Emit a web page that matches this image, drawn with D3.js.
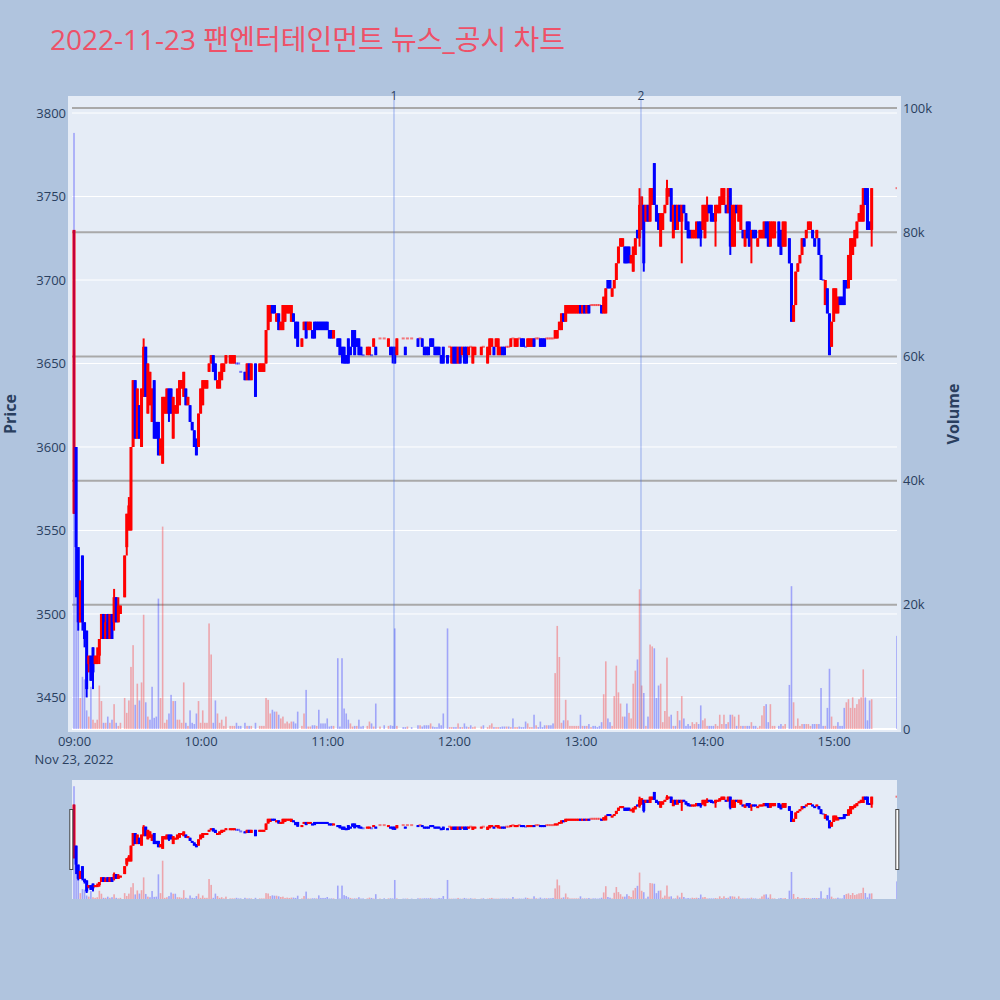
<!DOCTYPE html>
<html lang="ko">
<head>
<meta charset="utf-8">
<title>팬엔터테인먼트 뉴스_공시 차트</title>
<script src="https://cdn.jsdelivr.net/npm/d3@7"></script>
<style>
  body { margin: 0; background: #b0c4de; }
  svg { display: block; font-family: "Open Sans", "Noto Sans CJK KR", sans-serif; }
</style>
</head>
<body>
<script>
// Data
const tradeDay = "2022-11-23";
const chartTitle = "2022-11-23 팬엔터테인먼트 뉴스_공시 차트";

// minutes after the 09:00 open, one entry per traded minute
const minutes = [
	0, 1, 2, 3, 4, 5, 6, 7, 8, 9,
	10, 11, 12, 13, 14, 15, 16, 17, 18, 19,
	20, 21, 22, 24, 25, 26, 27, 28, 29, 30,
	31, 32, 33, 34, 35, 36, 37, 38, 39, 40,
	41, 42, 43, 44, 45, 46, 47, 48, 49, 50,
	51, 52, 53, 54, 55, 56, 57, 58, 59, 60,
	61, 62, 63, 64, 65, 66, 67, 68, 69, 70,
	71, 72, 74, 75, 76, 77, 78, 79, 81, 82,
	83, 84, 86, 88, 89, 90, 91, 92, 93, 94,
	95, 96, 97, 98, 99, 100, 101, 102, 103, 104,
	105, 106, 108, 109, 110, 111, 112, 113, 114, 115,
	116, 117, 118, 119, 120, 121, 122, 123, 125, 126,
	127, 128, 129, 130, 131, 132, 133, 134, 135, 136,
	137, 139, 140, 141, 142, 143, 145, 147, 149, 150,
	151, 152, 153, 156, 157, 158, 160, 163, 164, 165,
	166, 167, 168, 169, 170, 171, 172, 173, 174, 175,
	177, 178, 179, 180, 181, 182, 183, 184, 185, 186,
	187, 188, 189, 190, 193, 194, 196, 197, 198, 199,
	200, 201, 202, 203, 204, 205, 206, 207, 208, 209,
	210, 211, 212, 213, 214, 215, 216, 217, 218, 219,
	220, 221, 222, 223, 224, 225, 226, 227, 228, 229,
	230, 231, 232, 233, 234, 235, 236, 237, 238, 239,
	240, 241, 242, 243, 244, 245, 246, 247, 248, 249,
	250, 251, 252, 253, 254, 255, 256, 257, 258, 259,
	260, 261, 262, 263, 264, 265, 266, 267, 268, 269,
	270, 271, 272, 273, 274, 275, 276, 277, 278, 279,
	280, 281, 282, 283, 284, 285, 286, 287, 288, 289,
	290, 291, 292, 293, 294, 295, 296, 297, 298, 299,
	300, 301, 302, 303, 304, 305, 306, 307, 308, 309,
	310, 311, 312, 313, 314, 315, 316, 317, 318, 319,
	320, 321, 322, 323, 324, 325, 326, 327, 328, 329,
	330, 331, 332, 334, 335, 336, 337, 339, 340, 341,
	342, 343, 344, 345, 346, 347, 348, 349, 350, 351,
	352, 353, 354, 355, 356, 357, 358, 359, 360, 361,
	362, 363, 364, 365, 366, 367, 368, 369, 370, 371,
	372, 373, 374, 375, 376, 377, 378, 390
];

const opens = [
	3560, 3600, 3540, 3495, 3535, 3495, 3490, 3470, 3475, 3480,
	3470, 3470, 3475, 3485, 3500, 3485, 3500, 3485, 3500, 3495,
	3510, 3495, 3500, 3510, 3540, 3550, 3550, 3600, 3640, 3605,
	3625, 3600, 3630, 3660, 3620, 3625, 3615, 3640, 3615, 3615,
	3595, 3590, 3620, 3620, 3635, 3635, 3605, 3620, 3620, 3625,
	3635, 3630, 3635, 3625, 3625, 3615, 3610, 3605, 3600, 3620,
	3625, 3635, 3635, 3645, 3650, 3655, 3650, 3635, 3635, 3640,
	3645, 3650, 3650, 3650, 3650, 3650, 3650, 3645, 3645, 3640,
	3650, 3640, 3650, 3645, 3645, 3645, 3650, 3670, 3675, 3685,
	3685, 3675, 3680, 3670, 3670, 3675, 3680, 3680, 3675, 3680,
	3675, 3675, 3660, 3670, 3675, 3670, 3670, 3670, 3675, 3675,
	3675, 3675, 3675, 3675, 3675, 3670, 3670, 3665, 3665, 3665,
	3660, 3660, 3655, 3665, 3660, 3670, 3670, 3665, 3665, 3660,
	3655, 3655, 3655, 3655, 3660, 3660, 3665, 3665, 3660, 3660,
	3660, 3660, 3655, 3665, 3660, 3665, 3665, 3665, 3665, 3665,
	3660, 3660, 3660, 3665, 3665, 3660, 3660, 3660, 3655, 3660,
	3655, 3660, 3650, 3660, 3660, 3650, 3660, 3655, 3660, 3660,
	3655, 3660, 3650, 3655, 3655, 3660, 3650, 3655, 3660, 3660,
	3660, 3655, 3655, 3660, 3660, 3660, 3660, 3660, 3665, 3660,
	3660, 3665, 3665, 3665, 3660, 3660, 3660, 3660, 3665, 3665,
	3665, 3665, 3665, 3665, 3665, 3665, 3665, 3665, 3665, 3665,
	3670, 3670, 3680, 3675, 3680, 3680, 3680, 3680, 3680, 3680,
	3685, 3680, 3685, 3680, 3685, 3685, 3685, 3685, 3685, 3685,
	3685, 3680, 3680, 3700, 3700, 3690, 3695, 3700, 3710, 3720,
	3720, 3720, 3720, 3720, 3710, 3705, 3715, 3730, 3725, 3730,
	3745, 3735, 3745, 3735, 3745, 3770, 3745, 3740, 3720, 3730,
	3740, 3745, 3750, 3755, 3725, 3745, 3730, 3745, 3735, 3745,
	3740, 3735, 3730, 3725, 3725, 3725, 3735, 3735, 3730, 3725,
	3735, 3745, 3745, 3740, 3735, 3740, 3740, 3745, 3745, 3745,
	3740, 3755, 3720, 3720, 3745, 3735, 3730, 3730, 3720, 3735,
	3735, 3725, 3730, 3730, 3720, 3725, 3725, 3725, 3735, 3735,
	3720, 3725, 3725, 3735, 3730, 3720, 3720, 3725, 3710, 3675,
	3685, 3705, 3710, 3715, 3725, 3725, 3730, 3730, 3730, 3725,
	3725, 3725, 3715, 3700, 3685, 3695, 3680, 3660, 3675, 3680,
	3680, 3690, 3690, 3700, 3700, 3695, 3700, 3715, 3720, 3725,
	3735, 3735, 3735, 3755, 3755, 3735, 3730, 3755
];

const highs = [
	3730, 3600, 3540, 3520, 3535, 3495, 3490, 3475, 3475, 3480,
	3475, 3480, 3485, 3500, 3500, 3500, 3500, 3500, 3500, 3515,
	3510, 3510, 3505, 3535, 3560, 3570, 3600, 3640, 3640, 3635,
	3625, 3635, 3665, 3660, 3650, 3645, 3635, 3640, 3615, 3615,
	3605, 3630, 3630, 3635, 3635, 3635, 3630, 3625, 3635, 3640,
	3640, 3645, 3635, 3630, 3625, 3615, 3610, 3605, 3620, 3635,
	3640, 3640, 3640, 3650, 3655, 3655, 3650, 3640, 3645, 3650,
	3650, 3655, 3655, 3655, 3655, 3650, 3650, 3645, 3645, 3650,
	3650, 3650, 3650, 3650, 3650, 3650, 3670, 3685, 3685, 3685,
	3685, 3680, 3680, 3675, 3685, 3685, 3685, 3685, 3685, 3680,
	3675, 3675, 3665, 3675, 3675, 3675, 3675, 3670, 3675, 3675,
	3675, 3675, 3675, 3675, 3675, 3670, 3670, 3670, 3665, 3665,
	3660, 3660, 3655, 3665, 3660, 3670, 3670, 3665, 3665, 3660,
	3655, 3660, 3660, 3655, 3665, 3660, 3665, 3665, 3665, 3660,
	3660, 3660, 3665, 3665, 3660, 3665, 3665, 3665, 3665, 3665,
	3660, 3660, 3660, 3665, 3665, 3660, 3660, 3660, 3655, 3660,
	3655, 3660, 3660, 3660, 3660, 3660, 3660, 3660, 3660, 3660,
	3660, 3660, 3660, 3660, 3660, 3660, 3660, 3665, 3665, 3660,
	3665, 3665, 3660, 3660, 3660, 3660, 3660, 3665, 3665, 3665,
	3665, 3665, 3665, 3665, 3660, 3665, 3665, 3665, 3665, 3665,
	3665, 3665, 3665, 3665, 3665, 3665, 3665, 3665, 3670, 3670,
	3675, 3680, 3680, 3685, 3685, 3685, 3685, 3685, 3685, 3685,
	3685, 3685, 3685, 3685, 3685, 3685, 3685, 3685, 3685, 3685,
	3685, 3690, 3695, 3700, 3700, 3695, 3700, 3710, 3720, 3725,
	3725, 3720, 3720, 3720, 3715, 3720, 3725, 3730, 3755, 3750,
	3745, 3745, 3745, 3755, 3755, 3770, 3745, 3740, 3740, 3740,
	3745, 3760, 3755, 3755, 3745, 3745, 3745, 3745, 3745, 3745,
	3740, 3735, 3730, 3730, 3730, 3735, 3735, 3735, 3745, 3745,
	3750, 3745, 3745, 3740, 3745, 3745, 3750, 3755, 3755, 3745,
	3755, 3755, 3745, 3745, 3745, 3745, 3745, 3730, 3730, 3735,
	3735, 3730, 3730, 3730, 3725, 3730, 3730, 3735, 3735, 3735,
	3735, 3735, 3735, 3735, 3730, 3735, 3735, 3725, 3710, 3685,
	3705, 3710, 3715, 3725, 3725, 3730, 3735, 3735, 3730, 3725,
	3730, 3725, 3715, 3700, 3700, 3695, 3680, 3675, 3695, 3695,
	3690, 3690, 3690, 3700, 3700, 3715, 3725, 3725, 3730, 3735,
	3740, 3745, 3755, 3755, 3755, 3735, 3755, 3755
];

const lows = [
	3560, 3510, 3490, 3495, 3490, 3480, 3450, 3465, 3460, 3455,
	3470, 3470, 3470, 3485, 3485, 3485, 3485, 3485, 3485, 3490,
	3495, 3495, 3500, 3510, 3535, 3550, 3550, 3600, 3605, 3605,
	3605, 3600, 3630, 3630, 3620, 3625, 3615, 3605, 3605, 3595,
	3595, 3590, 3620, 3620, 3615, 3620, 3605, 3620, 3620, 3625,
	3635, 3630, 3625, 3625, 3615, 3610, 3600, 3595, 3600, 3620,
	3625, 3635, 3635, 3645, 3650, 3645, 3640, 3635, 3635, 3640,
	3645, 3650, 3650, 3650, 3650, 3650, 3650, 3645, 3640, 3640,
	3640, 3640, 3630, 3645, 3645, 3645, 3650, 3670, 3675, 3680,
	3680, 3675, 3670, 3670, 3670, 3675, 3680, 3680, 3675, 3675,
	3665, 3660, 3660, 3670, 3665, 3670, 3670, 3665, 3665, 3670,
	3670, 3670, 3670, 3670, 3670, 3665, 3665, 3665, 3660, 3655,
	3650, 3650, 3650, 3650, 3655, 3660, 3655, 3660, 3655, 3655,
	3655, 3655, 3655, 3655, 3660, 3655, 3665, 3665, 3660, 3655,
	3650, 3650, 3655, 3665, 3655, 3665, 3665, 3660, 3665, 3660,
	3655, 3655, 3655, 3660, 3660, 3655, 3655, 3655, 3650, 3650,
	3650, 3660, 3650, 3650, 3650, 3650, 3650, 3655, 3650, 3650,
	3655, 3660, 3650, 3655, 3655, 3660, 3650, 3655, 3660, 3655,
	3660, 3655, 3655, 3655, 3655, 3660, 3660, 3660, 3665, 3660,
	3660, 3665, 3660, 3660, 3660, 3660, 3660, 3660, 3660, 3665,
	3665, 3660, 3660, 3660, 3665, 3665, 3665, 3665, 3665, 3665,
	3670, 3670, 3675, 3675, 3680, 3680, 3680, 3680, 3680, 3680,
	3680, 3680, 3680, 3680, 3680, 3685, 3685, 3685, 3685, 3685,
	3680, 3680, 3680, 3695, 3695, 3690, 3695, 3700, 3710, 3720,
	3720, 3710, 3710, 3710, 3710, 3705, 3715, 3725, 3720, 3730,
	3705, 3735, 3735, 3735, 3745, 3745, 3735, 3730, 3720, 3730,
	3740, 3745, 3750, 3735, 3725, 3730, 3730, 3735, 3710, 3740,
	3730, 3725, 3725, 3725, 3725, 3725, 3725, 3720, 3730, 3725,
	3735, 3740, 3735, 3735, 3720, 3740, 3740, 3745, 3745, 3740,
	3740, 3715, 3720, 3720, 3740, 3735, 3730, 3725, 3720, 3725,
	3720, 3710, 3725, 3725, 3720, 3725, 3725, 3725, 3725, 3720,
	3720, 3725, 3725, 3720, 3715, 3720, 3720, 3710, 3675, 3675,
	3685, 3705, 3710, 3715, 3720, 3725, 3730, 3730, 3725, 3720,
	3725, 3715, 3700, 3700, 3685, 3680, 3655, 3660, 3675, 3680,
	3680, 3685, 3685, 3685, 3695, 3695, 3700, 3715, 3720, 3725,
	3735, 3735, 3735, 3745, 3730, 3730, 3720, 3755
];

const closes = [
	3730, 3540, 3495, 3520, 3495, 3485, 3455, 3475, 3460, 3465,
	3475, 3475, 3485, 3500, 3485, 3495, 3485, 3500, 3485, 3510,
	3495, 3505, 3505, 3535, 3560, 3565, 3600, 3640, 3605, 3635,
	3605, 3635, 3660, 3630, 3650, 3645, 3635, 3605, 3605, 3595,
	3605, 3630, 3630, 3635, 3620, 3620, 3630, 3625, 3635, 3640,
	3640, 3645, 3625, 3630, 3615, 3610, 3600, 3595, 3620, 3635,
	3640, 3640, 3640, 3650, 3655, 3645, 3640, 3640, 3645, 3650,
	3650, 3655, 3655, 3655, 3655, 3650, 3650, 3645, 3640, 3650,
	3640, 3650, 3630, 3650, 3650, 3650, 3670, 3685, 3685, 3680,
	3680, 3680, 3670, 3675, 3685, 3685, 3685, 3685, 3685, 3675,
	3665, 3660, 3665, 3675, 3665, 3675, 3675, 3665, 3665, 3670,
	3670, 3670, 3670, 3670, 3670, 3665, 3665, 3670, 3660, 3655,
	3655, 3650, 3650, 3650, 3655, 3660, 3655, 3660, 3655, 3655,
	3655, 3660, 3660, 3655, 3665, 3655, 3665, 3665, 3665, 3655,
	3655, 3650, 3665, 3665, 3655, 3665, 3665, 3660, 3665, 3660,
	3655, 3655, 3655, 3660, 3660, 3655, 3655, 3655, 3650, 3650,
	3650, 3660, 3660, 3650, 3650, 3660, 3650, 3660, 3650, 3650,
	3660, 3660, 3660, 3660, 3660, 3660, 3660, 3665, 3665, 3655,
	3665, 3665, 3660, 3655, 3655, 3660, 3660, 3665, 3665, 3665,
	3665, 3665, 3660, 3660, 3660, 3665, 3665, 3665, 3660, 3665,
	3665, 3660, 3660, 3660, 3665, 3665, 3665, 3665, 3670, 3670,
	3675, 3680, 3675, 3685, 3685, 3685, 3685, 3685, 3685, 3685,
	3680, 3685, 3680, 3685, 3680, 3685, 3685, 3685, 3685, 3685,
	3680, 3690, 3695, 3695, 3695, 3695, 3700, 3710, 3720, 3725,
	3725, 3710, 3710, 3715, 3715, 3720, 3725, 3725, 3745, 3750,
	3710, 3745, 3735, 3755, 3755, 3745, 3735, 3730, 3740, 3740,
	3745, 3755, 3755, 3735, 3745, 3730, 3745, 3735, 3745, 3740,
	3730, 3725, 3725, 3730, 3730, 3735, 3725, 3725, 3745, 3745,
	3745, 3740, 3735, 3735, 3745, 3745, 3750, 3755, 3755, 3740,
	3755, 3720, 3745, 3745, 3740, 3745, 3745, 3725, 3730, 3725,
	3720, 3730, 3725, 3725, 3725, 3730, 3730, 3735, 3725, 3720,
	3735, 3735, 3735, 3720, 3715, 3735, 3735, 3710, 3675, 3685,
	3705, 3710, 3715, 3725, 3720, 3730, 3735, 3735, 3725, 3720,
	3730, 3715, 3700, 3700, 3700, 3680, 3655, 3675, 3695, 3695,
	3690, 3685, 3685, 3685, 3695, 3715, 3725, 3725, 3730, 3735,
	3740, 3745, 3755, 3745, 3730, 3730, 3755, 3755
];

// traded volume per minute, thousand shares
const volumeK = [
	96, 29, 16, 5, 8.4, 8, 3, 2, 6.8, 1.5,
	1, 1.5, 7, 4.5, 1, 1, 2, 1, 1.5, 4,
	1, 0.5, 1, 5, 2.6, 4.6, 10, 13.5, 3.9, 7.3,
	4.6, 7.5, 18.4, 4.3, 2, 1.5, 6.8, 1.8, 2, 21,
	5, 32.6, 1, 1.5, 2.5, 5.5, 4.5, 4.5, 1.5, 1.5,
	1, 7.5, 1, 0.5, 3, 1, 0.8, 2.5, 4.5, 1,
	3, 1, 1, 17, 12, 1, 4.6, 2.5, 1, 1.5,
	0.5, 2, 0.5, 0.5, 0.5, 1, 0.5, 0.5, 1, 0.5,
	0.5, 0.5, 1, 0.5, 0.5, 0.5, 5, 4.7, 2.5, 3.1,
	2.8, 2.8, 2.3, 1.7, 2, 0.9, 1.2, 0.9, 1.2, 1.2,
	0.9, 2.8, 0.5, 2.5, 6.3, 0.4, 0.4, 0.6, 0.6, 0.5,
	3.1, 0.9, 0.9, 0.9, 1.7, 0.4, 0.5, 0.5, 11.4, 0.4,
	11.4, 3.3, 2.5, 1.5, 0.9, 0.4, 0.5, 0.5, 1.5, 0.4,
	0.5, 0.5, 1.2, 0.9, 0.4, 4.1, 0.4, 0.6, 0.5, 0.6,
	0.5, 16.2, 0.5, 0.3, 0.3, 0.4, 0.3, 0.6, 0.6, 0.4,
	0.6, 0.6, 0.6, 0.9, 0.4, 0.3, 0.3, 0.9, 0.6, 2.5,
	16.2, 0.3, 0.3, 0.3, 0.3, 0.9, 0.3, 0.3, 0.9, 0.4,
	0.3, 0.6, 0.3, 0.4, 0.4, 0.6, 0.3, 0.6, 0.9, 0.3,
	0.3, 0.3, 0.3, 0.4, 0.4, 0.4, 0.4, 0.3, 1.7, 0.3,
	0.3, 0.4, 0.3, 0.3, 1.2, 0.9, 0.3, 0.3, 2.3, 0.6,
	0.3, 1.2, 0.3, 0.6, 0.6, 0.6, 0.6, 0.9, 9, 16.6,
	11.6, 1, 1.4, 4.7, 1.4, 0.5, 0.5, 0.5, 0.5, 0.5,
	2.3, 0.5, 0.5, 0.5, 0.8, 0.3, 0.5, 0.5, 0.3, 0.5,
	1.1, 5.6, 10.9, 1.7, 1.1, 0.5, 5.3, 10.2, 5.9, 4.1,
	2, 2, 4.1, 2.6, 1.7, 7.3, 9.4, 11.2, 22.5, 7,
	5.8, 0.5, 2, 13.6, 13.3, 13, 5, 7, 7.3, 1.1,
	2.9, 11.5, 2, 2.3, 0.5, 0.5, 2.9, 1.4, 5.3, 1.7,
	0.5, 0.8, 0.5, 1.1, 0.8, 1.1, 0.8, 3.8, 1.4, 1.7,
	0.5, 0.5, 0.5, 0.5, 0.8, 0.5, 2.3, 0.8, 2.3, 0.8,
	1.1, 2.3, 2.3, 2, 0.5, 2.3, 0.5, 0.5, 0.5, 0.5,
	0.5, 1.1, 0.5, 0.5, 0.2, 0.5, 2.2, 3.7, 4, 1.1,
	4, 0.5, 0.5, 0.5, 0.8, 0.5, 0.8, 7.1, 23, 4.3,
	0.5, 1.7, 0.5, 0.8, 0.8, 0.8, 0.8, 0.5, 0.8, 0.8,
	0.8, 0.8, 6.6, 0.5, 0.5, 3.4, 9.7, 2, 0.5, 0.5,
	1.1, 0.5, 0.5, 3.4, 4.3, 4.8, 3.4, 5.1, 3.4, 4,
	4.8, 5.1, 9.6, 5.1, 1.4, 4.6, 4.8, 15
];

const priceTicks = [3450, 3500, 3550, 3600, 3650, 3700, 3750, 3800];
const volumeTicks = [0, 20, 40, 60, 80, 100];
const hourTicks = ["09:00", "10:00", "11:00", "12:00", "13:00", "14:00", "15:00"];

// news / disclosure times marked on the chart
const newsTimes = ["11:31:38", "13:28:41"];
const newsLabels = ["1", "2"];

/** Class representing the minute chart with volume and a range slider. */
class MinuteChart {
	constructor() {
		// View
		this.svgWidth = 1000;
		this.svgHeight = 1000;
		this.plotLeft = 72;
		this.plotRight = 897;
		this.plotTop = 100;
		this.plotBottom = 729;
		this.sliderTop = 780;
		this.sliderBottom = 899;
		this.upColor = "#ff0000";
		this.downColor = "#0000ff";
		this.textColor = "#2a3f5f";

		this.parse = d3.timeParse("%Y-%m-%d %H:%M:%S");
		this.openTime = this.parse(tradeDay + " 09:00:00");
		this.closeTime = this.parse(tradeDay + " 15:30:00");

		// Model: plotly style direction, a flat candle keeps the last direction
		this.candles = [];
		let up = true;
		let prevClose = null;
		minutes.forEach((m, i) => {
			let o = opens[i], c = closes[i];
			if (c !== o) {
				up = c > o;
			} else if (prevClose !== null && c !== prevClose) {
				up = c > prevClose;
			}
			let volUp = prevClose !== null && (c > prevClose || (c === prevClose && c > o));
			this.candles.push({
				time: d3.timeMinute.offset(this.openTime, m),
				o: o, h: highs[i], l: lows[i], c: c, v: volumeK[i],
				up: up, volUp: volUp
			});
			prevClose = c;
		});

		// Scales
		this.x = d3.scaleTime()
			.domain([d3.timeSecond.offset(this.openTime, -57), this.closeTime])
			.range([this.plotLeft, this.plotRight]);
		this.yPrice = d3.scaleLinear()
			.domain([3431.1, 3807.8])
			.range([this.plotBottom, this.plotTop]);
		this.yVolume = d3.scaleLinear()
			.domain([0, 101.3])
			.range([this.plotBottom, this.plotTop]);
		this.ySliderPrice = this.yPrice.copy().range([this.sliderBottom, this.sliderTop]);
		this.ySliderVolume = this.yVolume.copy().range([this.sliderBottom, this.sliderTop]);
	}

	/**
	 * Renders the whole figure
	 */
	render() {
		let svg = d3.select("body")
					.append("svg")
					.attr("width", this.svgWidth)
					.attr("height", this.svgHeight);

		svg.append("rect")
			.attr("width", this.svgWidth)
			.attr("height", this.svgHeight)
			.attr("fill", "#b0c4de");

		let defs = svg.append("defs");
		defs.append("clipPath").attr("id", "clip-main")
			.append("rect")
			.attr("x", this.plotLeft).attr("y", this.plotTop)
			.attr("width", this.plotRight - this.plotLeft)
			.attr("height", this.plotBottom - this.plotTop);
		defs.append("clipPath").attr("id", "clip-slider")
			.append("rect")
			.attr("x", this.plotLeft).attr("y", this.sliderTop)
			.attr("width", this.plotRight - this.plotLeft)
			.attr("height", this.sliderBottom - this.sliderTop);

		this.renderTitle(svg);
		this.renderGrid(svg);

		let main = svg.append("g").attr("clip-path", "url(#clip-main)");
		this.renderCandles(main, this.yPrice, 1);
		this.renderVolume(main, this.yVolume);

		this.renderNews(svg);
		this.renderAxes(svg);
		this.renderSlider(svg);
	}

	renderTitle(svg) {
		svg.append("text")
			.attr("x", 50)
			.attr("y", 50)
			.attr("font-size", 28)
			.attr("fill", "#ee5168")
			.text(chartTitle);
	}

	/**
	 * Plot background, white price grid and grey volume grid
	 */
	renderGrid(svg) {
		svg.append("rect")
			.attr("x", this.plotLeft - 4)
			.attr("y", this.plotTop - 4)
			.attr("width", this.plotRight - this.plotLeft + 8)
			.attr("height", this.plotBottom - this.plotTop + 7)
			.attr("fill", "#e5ecf6");

		svg.append("g").selectAll("line")
			.data(priceTicks)
			.enter()
			.append("line")
			.attr("x1", this.plotLeft).attr("x2", this.plotRight)
			.attr("y1", d => this.yPrice(d)).attr("y2", d => this.yPrice(d))
			.attr("stroke", "#ffffff")
			.attr("stroke-width", 1);

		svg.append("g").selectAll("line")
			.data(volumeTicks)
			.enter()
			.append("line")
			.attr("x1", this.plotLeft).attr("x2", this.plotRight)
			.attr("y1", d => this.yVolume(d)).attr("y2", d => this.yVolume(d))
			.attr("stroke", d => d === 0 ? "#ffffff" : "#a9a9a9")
			.attr("stroke-width", 2);
	}

	/**
	 * Draws one candle per minute
	 * @param {selection} g - the containing group
	 * @param {scale} y - price scale
	 * @param {number} minBody - smallest body height in pixels
	 */
	renderCandles(g, y, minBody) {
		let x = this.x;
		let color = d => d.up ? this.upColor : this.downColor;
		let candles = g.append("g").selectAll("g")
					   .data(this.candles)
					   .enter()
					   .append("g");

		candles.filter(d => d.h > d.l)
			.append("line")
			.attr("x1", d => x(d.time)).attr("x2", d => x(d.time))
			.attr("y1", d => y(d.h)).attr("y2", d => y(d.l))
			.attr("stroke", color)
			.attr("stroke-width", 2);

		candles.append("rect")
			.attr("x", d => x(d.time) - 1.5)
			.attr("width", 3)
			.attr("y", d => d.o === d.c ? y(d.o) - 1 : y(Math.max(d.o, d.c)))
			.attr("height", d => d.o === d.c ? 2 : Math.max(y(Math.min(d.o, d.c)) - y(Math.max(d.o, d.c)), minBody))
			.attr("fill", color)
			.attr("opacity", d => d.o === d.c ? 0.5 : 1);
	}

	renderVolume(g, y) {
		g.append("g").selectAll("rect")
			.data(this.candles)
			.enter()
			.append("rect")
			.attr("x", d => this.x(d.time) - 0.8)
			.attr("width", 1.6)
			.attr("y", d => y(d.v))
			.attr("height", d => y(0) - y(d.v))
			.attr("fill", d => d.volUp ? this.upColor : this.downColor)
			.attr("fill-opacity", 0.3);
	}

	/**
	 * Vertical markers for the news / disclosure times
	 */
	renderNews(svg) {
		let marks = newsTimes.map((t, i) => ({
			time: this.parse(tradeDay + " " + t),
			label: newsLabels[i]
		}));
		let g = svg.append("g");
		g.selectAll("line")
			.data(marks)
			.enter()
			.append("line")
			.attr("x1", d => this.x(d.time)).attr("x2", d => this.x(d.time))
			.attr("y1", this.plotTop).attr("y2", this.plotBottom)
			.attr("stroke", "royalblue")
			.attr("stroke-opacity", 0.5)
			.attr("stroke-width", 1);
		g.selectAll("text")
			.data(marks)
			.enter()
			.append("text")
			.attr("x", d => this.x(d.time))
			.attr("y", this.plotTop)
			.attr("text-anchor", "middle")
			.attr("font-size", 12)
			.attr("fill", this.textColor)
			.text(d => d.label);
	}

	renderAxes(svg) {
		let left = svg.append("g")
			.attr("transform", `translate(${this.plotLeft},0)`)
			.call(d3.axisLeft(this.yPrice).tickValues(priceTicks)
				.tickFormat(d3.format("d")).tickSize(0).tickPadding(6));
		let right = svg.append("g")
			.attr("transform", `translate(${this.plotRight},0)`)
			.call(d3.axisRight(this.yVolume).tickValues(volumeTicks)
				.tickFormat(v => v === 0 ? "0" : v + "k").tickSize(0).tickPadding(6));
		let hours = hourTicks.map(h => this.parse(tradeDay + " " + h + ":00"));
		let bottom = svg.append("g")
			.attr("transform", `translate(0,${this.plotBottom})`)
			.call(d3.axisBottom(this.x).tickValues(hours)
				.tickFormat(d3.timeFormat("%H:%M")).tickSize(0).tickPadding(8));

		for (let axis of [left, right, bottom]) {
			axis.attr("font-family", null)
				.attr("font-size", 13)
				.attr("color", this.textColor);
			axis.select(".domain").remove();
		}

		svg.append("text")
			.attr("x", this.x(this.openTime))
			.attr("y", 764)
			.attr("text-anchor", "middle")
			.attr("font-size", 13)
			.attr("fill", this.textColor)
			.text(d3.timeFormat("%b %d, %Y")(this.openTime));

		let titles = [
			{ text: "Price", x: 16 },
			{ text: "Volume", x: 959 }
		];
		svg.append("g").selectAll("text")
			.data(titles)
			.enter()
			.append("text")
			.attr("transform", d => `translate(${d.x},414) rotate(-90)`)
			.attr("text-anchor", "middle")
			.attr("font-size", 16)
			.attr("font-weight", "bold")
			.attr("fill", this.textColor)
			.text(d => d.text);
	}

	/**
	 * Range slider under the x axis, showing the whole session
	 */
	renderSlider(svg) {
		svg.append("rect")
			.attr("x", this.plotLeft)
			.attr("y", this.sliderTop)
			.attr("width", this.plotRight - this.plotLeft)
			.attr("height", this.sliderBottom - this.sliderTop)
			.attr("fill", "#e5ecf6");

		let g = svg.append("g").attr("clip-path", "url(#clip-slider)");
		this.renderCandles(g, this.ySliderPrice, 2);
		this.renderVolume(g, this.ySliderVolume);

		let mid = (this.sliderTop + this.sliderBottom) / 2;
		svg.append("g").selectAll("rect")
			.data([this.plotLeft - 0.7, this.plotRight + 0.3])
			.enter()
			.append("rect")
			.attr("x", d => d - 1.5)
			.attr("y", mid - 30)
			.attr("width", 3)
			.attr("height", 60)
			.attr("fill", "#ffffff")
			.attr("stroke", "#444444")
			.attr("stroke-width", 1);
	}
}

let chart = new MinuteChart();
chart.render();
</script>
</body>
</html>
